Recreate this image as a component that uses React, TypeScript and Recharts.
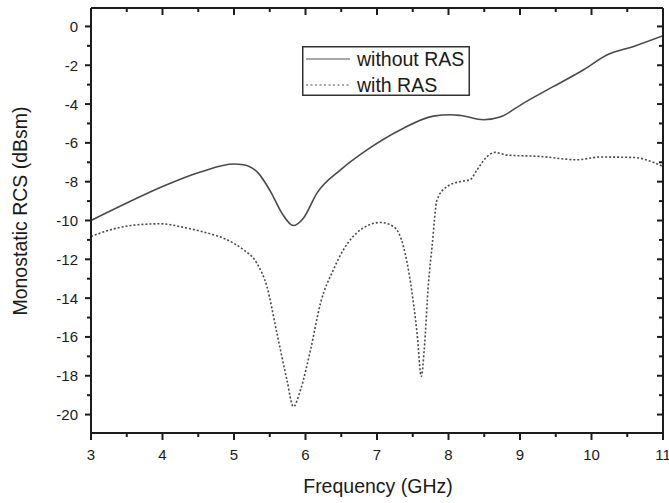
import React from "react";
import { LineChart, Line, XAxis, YAxis } from "recharts";

// frequency (GHz) / monostatic RCS (dBsm)
const freqWithout = [3, 3.5, 4, 4.53, 5.0, 5.13, 5.34, 5.51, 5.67, 5.83, 5.97, 6.16, 6.49, 6.86, 7.33, 7.79, 8.03, 8.17, 8.49, 8.72, 9.05, 9.47, 9.89, 10.22, 10.59, 11];
const rcsWithout = [-10.0, -9.1, -8.25, -7.5, -7.09, -7.13, -7.56, -8.5, -9.62, -10.26, -9.88, -8.59, -7.39, -6.36, -5.32, -4.62, -4.55, -4.59, -4.81, -4.67, -3.95, -3.09, -2.23, -1.46, -1.03, -0.48];

const freqWith = [3, 3.3, 3.6, 3.97, 4.34, 4.53, 4.99, 5.13, 5.32, 5.46, 5.6, 5.74, 5.83, 5.93, 6.07, 6.21, 6.39, 6.53, 6.77, 7.05, 7.23, 7.37, 7.47, 7.56, 7.62, 7.66, 7.72, 7.77, 7.84, 7.98, 8.17, 8.3, 8.4, 8.54, 8.65, 8.82, 9.28, 9.8, 10.12, 10.59, 10.87, 11];
const rcsWith = [-10.82, -10.45, -10.24, -10.17, -10.39, -10.55, -11.16, -11.5, -12.2, -13.4, -15.8, -18.21, -19.59, -18.73, -16.67, -14.26, -12.54, -11.51, -10.48, -10.1, -10.31, -11.34, -13.23, -15.8, -18.04, -16.67, -13.23, -11.34, -8.93, -8.25, -7.99, -7.9, -7.39, -6.7, -6.49, -6.63, -6.7, -6.87, -6.73, -6.75, -7.01, -7.22];

const xTicks = [3, 3.5, 4, 4.5, 5, 5.5, 6, 6.5, 7, 7.5, 8, 8.5, 9, 9.5, 10, 10.5, 11];
const yTicks = [0, -1, -2, -3, -4, -5, -6, -7, -8, -9, -10, -11, -12, -13, -14, -15, -16, -17, -18, -19, -20];

const seriesNames = ["without RAS", "with RAS"];

const AXIS = "#1c1c1c";
const TEXT = "#1a1a1a";
const FONT = "'Liberation Sans', Arial, sans-serif";

const toRows = (f: number[], v: number[]) => f.map((freq, i) => ({ freq, rcs: v[i] }));
const withoutData = toRows(freqWithout, rcsWithout);
const withData = toRows(freqWith, rcsWith);

const isMajorX = (v: number) => Number.isInteger(v);
const isMajorY = (v: number) => v % 2 === 0;

// tick marks drawn by hand so major/minor get different lengths
const BottomTick = ({ x, y, payload }: any) => {
  const major = isMajorX(payload.value);
  return (
    <g>
      <line x1={x} y1={y} x2={x} y2={y + (major ? 7 : 4)} stroke={AXIS} strokeWidth={2} />
      {major && (
        <text x={x} y={y + 27} textAnchor="middle" fontSize={15} fontFamily={FONT} fill={TEXT}>
          {payload.value}
        </text>
      )}
    </g>
  );
};

const TopTick = ({ x, y, payload }: any) => (
  <line x1={x} y1={y} x2={x} y2={y + (isMajorX(payload.value) ? 7 : 4)} stroke={AXIS} strokeWidth={2} />
);

const LeftTick = ({ x, y, payload }: any) => {
  const major = isMajorY(payload.value);
  return (
    <g>
      <line x1={x - (major ? 6 : 4)} y1={y} x2={x} y2={y} stroke={AXIS} strokeWidth={2} />
      {major && (
        <text x={x - 13} y={y + 5.5} textAnchor="end" fontSize={15} fontFamily={FONT} fill={TEXT}>
          {payload.value}
        </text>
      )}
    </g>
  );
};

const RightTick = ({ x, y, payload }: any) => (
  <line x1={x - (isMajorY(payload.value) ? 6 : 4)} y1={y} x2={x} y2={y} stroke={AXIS} strokeWidth={2} />
);

const LegendBox = () => (
  <svg
    width={168}
    height={50}
    style={{ position: "absolute", left: 302, top: 46 }}
  >
    <rect x={0.75} y={0.75} width={166.5} height={48.5} fill="#fff" stroke="#333" strokeWidth={1.5} />
    {seriesNames.map((name, i) => (
      <g key={name}>
        <line
          x1={4}
          x2={48}
          y1={13 + i * 26}
          y2={13 + i * 26}
          stroke="#8a8a8a"
          strokeWidth={1.6}
          strokeDasharray={i === 1 ? "2 2.5" : undefined}
        />
        <text x={55} y={13 + i * 26 + 7} fontSize={19.5} fontFamily={FONT} fill={TEXT}>
          {name}
        </text>
      </g>
    ))}
  </svg>
);

const App: React.FC = () => {
  return (
    <div style={{ position: "relative", width: 669, height: 503, background: "#fff" }}>
      <style>{`body{margin:0;}`}</style>
      <LineChart width={669} height={503} margin={{ top: 7, right: 5, bottom: 0, left: 0 }}>
        <XAxis
          xAxisId="b"
          dataKey="freq"
          type="number"
          domain={[3, 11]}
          allowDataOverflow
          ticks={xTicks}
          interval={0}
          height={70}
          tickSize={0}
          tickMargin={0}
          tickLine={false}
          tick={<BottomTick />}
          axisLine={{ stroke: AXIS, strokeWidth: 2 }}
          label={({ viewBox }: any) => (
            <text
              x={viewBox.x + viewBox.width / 2 + 1}
              y={viewBox.y + 60}
              textAnchor="middle"
              fontSize={19.5}
              fontFamily={FONT}
              fill={TEXT}
            >
              Frequency (GHz)
            </text>
          )}
        />
        <XAxis
          xAxisId="t"
          orientation="top"
          dataKey="freq"
          type="number"
          domain={[3, 11]}
          allowDataOverflow
          ticks={xTicks}
          interval={0}
          height={1}
          tickSize={0}
          tickMargin={0}
          tickLine={false}
          tick={<TopTick />}
          axisLine={{ stroke: AXIS, strokeWidth: 2 }}
        />
        <YAxis
          yAxisId="l"
          type="number"
          domain={[-20.95, 0.95]}
          allowDataOverflow
          ticks={yTicks}
          interval={0}
          width={91}
          tickSize={0}
          tickMargin={0}
          tickLine={false}
          tick={<LeftTick />}
          axisLine={{ stroke: AXIS, strokeWidth: 2 }}
          label={() => (
            <text
              x={27}
              y={211}
              transform="rotate(-90 27 211)"
              textAnchor="middle"
              fontSize={19.5}
              fontFamily={FONT}
              fill={TEXT}
            >
              Monostatic RCS (dBsm)
            </text>
          )}
        />
        <YAxis
          yAxisId="r"
          orientation="right"
          type="number"
          domain={[-20.95, 0.95]}
          allowDataOverflow
          ticks={yTicks}
          interval={0}
          width={1}
          tickSize={0}
          tickMargin={0}
          tickLine={false}
          tick={<RightTick />}
          axisLine={{ stroke: AXIS, strokeWidth: 2 }}
        />
        <Line
          xAxisId="b"
          yAxisId="l"
          data={withoutData}
          dataKey="rcs"
          name={seriesNames[0]}
          type="monotone"
          stroke="#4a4a4a"
          strokeWidth={1.6}
          dot={false}
          isAnimationActive={false}
        />
        <Line
          xAxisId="b"
          yAxisId="l"
          data={withData}
          dataKey="rcs"
          name={seriesNames[1]}
          type="monotone"
          stroke="#4a4a4a"
          strokeWidth={1.6}
          strokeDasharray="2 2"
          dot={false}
          isAnimationActive={false}
        />
      </LineChart>
      <LegendBox />
    </div>
  );
};

export default App;
